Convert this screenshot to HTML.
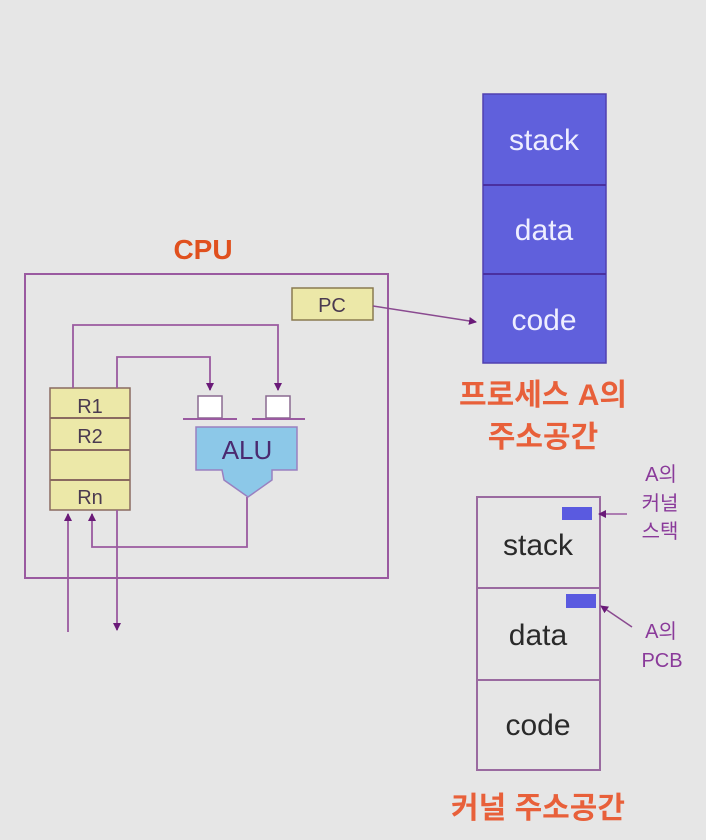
<!DOCTYPE html>
<html><head><meta charset="utf-8"><style>
html,body{margin:0;padding:0;background:#e6e6e6;}
svg{display:block}
text{font-family:"Liberation Sans","Noto Sans CJK KR",sans-serif;}
</style></head><body>
<svg width="706" height="840" viewBox="0 0 706 840" xmlns="http://www.w3.org/2000/svg">
<defs>
<marker id="a" markerWidth="8" markerHeight="8" refX="7" refY="4" orient="auto" markerUnits="userSpaceOnUse"><path d="M0,0 L8,4 L0,8 z" fill="#6a1a78"/></marker>
</defs>
<rect width="706" height="840" fill="#e6e6e6"/>
<!-- CPU -->
<text x="203" y="259" font-size="28" font-weight="bold" fill="#e0501e" text-anchor="middle">CPU</text>
<rect x="25" y="274" width="363" height="304" fill="none" stroke="#9a5aa0" stroke-width="2"/>
<rect x="292" y="288" width="81" height="32" fill="#ece8a8" stroke="#8a7a50" stroke-width="1.5"/>
<text x="332" y="312" font-size="20" fill="#4a3a50" text-anchor="middle">PC</text>
<line x1="373" y1="306" x2="476" y2="322" stroke="#8a4a90" stroke-width="1.5" marker-end="url(#a)"/>
<!-- registers -->
<rect x="50" y="388" width="80" height="122" fill="#ece8a8" stroke="#8a6a60" stroke-width="1.5"/>
<line x1="50" y1="418" x2="130" y2="418" stroke="#8a6a60" stroke-width="2"/>
<line x1="50" y1="450" x2="130" y2="450" stroke="#8a6a60" stroke-width="2"/>
<line x1="50" y1="480" x2="130" y2="480" stroke="#8a6a60" stroke-width="2"/>
<text x="90" y="413" font-size="20" fill="#4a3a50" text-anchor="middle">R1</text>
<text x="90" y="443" font-size="20" fill="#4a3a50" text-anchor="middle">R2</text>
<text x="90" y="504" font-size="20" fill="#4a3a50" text-anchor="middle">Rn</text>
<g fill="none" stroke="#9a5aa0" stroke-width="1.8">
<polyline points="73,388 73,325 278,325 278,390" marker-end="url(#a)"/>
<polyline points="117,388 117,357 210,357 210,390" marker-end="url(#a)"/>
<polyline points="247,497 247,547 92,547 92,514" marker-end="url(#a)"/>
<line x1="68" y1="632" x2="68" y2="514" marker-end="url(#a)"/>
<line x1="117" y1="510" x2="117" y2="630" marker-end="url(#a)"/>
</g>
<!-- ALU inputs -->
<g fill="#fff" stroke="#8a6a90" stroke-width="1.5">
<rect x="198" y="396" width="24" height="22"/>
<rect x="266" y="396" width="24" height="22"/>
</g>
<g stroke="#9a5aa0" stroke-width="2">
<line x1="183" y1="419" x2="237" y2="419"/>
<line x1="252" y1="419" x2="305" y2="419"/>
</g>
<path d="M196,427 H297 V470 H272 V480 L248,497 L224,480 L222,470 H196 Z" fill="#8cc8e8" stroke="#9a80c0" stroke-width="1.5"/>
<text x="247" y="459" font-size="26" fill="#4a2a70" text-anchor="middle">ALU</text>
<!-- Process A -->
<rect x="483" y="94" width="123" height="269" fill="#6060dc" stroke="#5040b0" stroke-width="1.5"/>
<line x1="483" y1="185" x2="606" y2="185" stroke="#4a30a0" stroke-width="2"/>
<line x1="483" y1="274" x2="606" y2="274" stroke="#4a30a0" stroke-width="2"/>
<text x="544" y="150" font-size="30" fill="#eef" text-anchor="middle">stack</text>
<text x="544" y="240" font-size="30" fill="#eef" text-anchor="middle">data</text>
<text x="544" y="330" font-size="30" fill="#eef" text-anchor="middle">code</text>
<text x="543" y="405" font-size="30" font-weight="bold" fill="#e8603a" text-anchor="middle">프로세스 A의</text>
<text x="543" y="447" font-size="30" font-weight="bold" fill="#e8603a" text-anchor="middle">주소공간</text>
<!-- kernel -->
<rect x="477" y="497" width="123" height="273" fill="#e6e6e6" stroke="#9a6aa0" stroke-width="2"/>
<line x1="477" y1="588" x2="600" y2="588" stroke="#9a6aa0" stroke-width="2"/>
<line x1="477" y1="680" x2="600" y2="680" stroke="#9a6aa0" stroke-width="2"/>
<text x="538" y="555" font-size="30" fill="#2a2a2a" text-anchor="middle">stack</text>
<text x="538" y="645" font-size="30" fill="#2a2a2a" text-anchor="middle">data</text>
<text x="538" y="735" font-size="30" fill="#2a2a2a" text-anchor="middle">code</text>
<rect x="562" y="507" width="30" height="13" fill="#5a5ae0"/>
<rect x="566" y="594" width="30" height="14" fill="#5a5ae0"/>
<line x1="627" y1="514" x2="599" y2="514" stroke="#9a5aa0" stroke-width="1.5" marker-end="url(#a)"/>
<line x1="632" y1="627" x2="601" y2="606" stroke="#8a4a90" stroke-width="1.5" marker-end="url(#a)"/>
<g font-size="20" fill="#8a3a9a" text-anchor="middle">
<text x="661" y="481">A의</text>
<text x="660" y="510">커널</text>
<text x="660" y="538">스택</text>
<text x="661" y="638">A의</text>
<text x="662" y="667">PCB</text>
</g>
<text x="538" y="818" font-size="30" font-weight="bold" fill="#e8603a" text-anchor="middle">커널 주소공간</text>
</svg>
</body></html>
